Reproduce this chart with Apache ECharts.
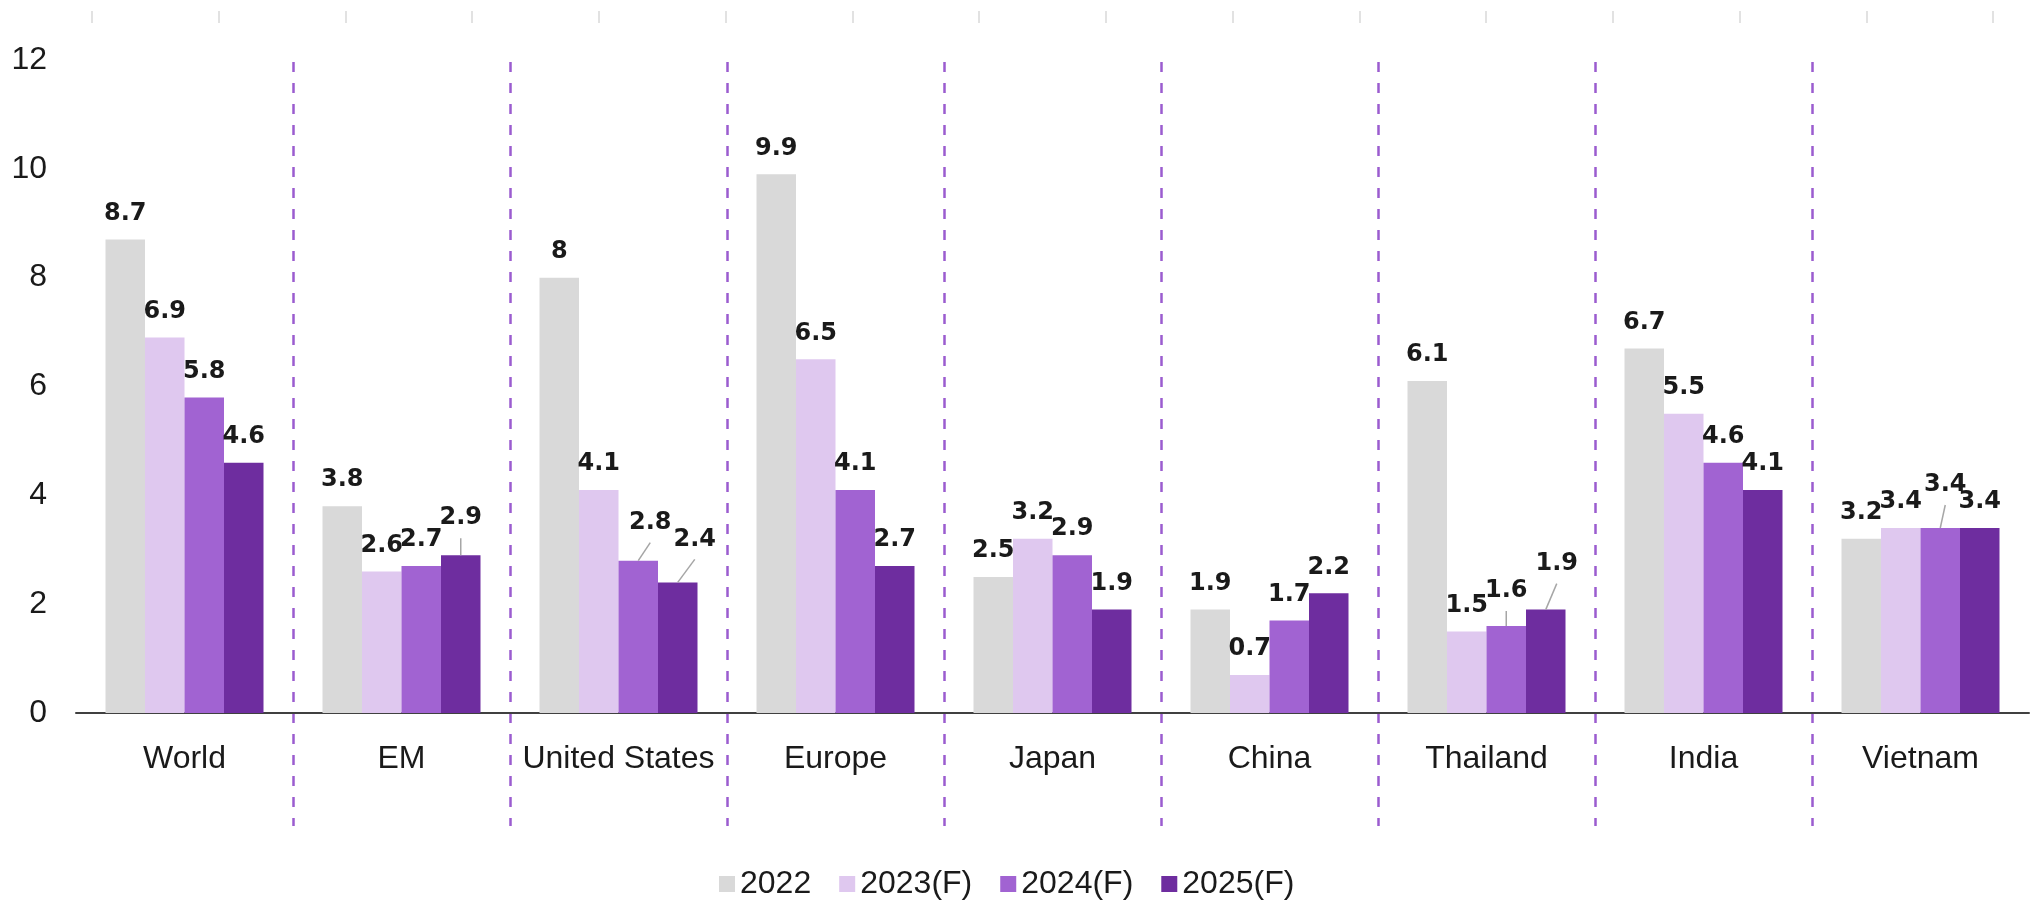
<!DOCTYPE html>
<html>
<head>
<meta charset="utf-8">
<script src="https://cdn.jsdelivr.net/npm/echarts@6/dist/echarts.min.js"></script>
<style>
html, body { margin: 0; padding: 0; background: #fff; }
#chart { width: 2040px; height: 900px; }
</style>
</head>
<body>
<div id="chart"></div>
<script>
var regions = ['World', 'EM', 'United States', 'Europe', 'Japan', 'China', 'Thailand', 'India', 'Vietnam'];
var years = ['2022', '2023(F)', '2024(F)', '2025(F)'];
var v2022 = [8.7, 3.8, 8, 9.9, 2.5, 1.9, 6.1, 6.7, 3.2];
var v2023 = [6.9, 2.6, 4.1, 6.5, 3.2, 0.7, 1.5, 5.5, 3.4];
var v2024 = [5.8, 2.7, 2.8, 4.1, 2.9, 1.7, 1.6, 4.6, 3.4];
var v2025 = [4.6, 2.9, 2.4, 2.7, 1.9, 2.2, 1.9, 4.1, 3.4];
var yMin = 0, yMax = 12, yStep = 2;

var colors = ['#d9d9d9', '#dfc8ef', '#a163d2', '#6e2d9f'];
var barW = 39.5;

// labels that were pulled off their bar (series-index, data-index) -> [dx, dy]
var labelNudge = {
    '3-1': [0, -11],
    '2-2': [12, -12],
    '3-2': [17, -17],
    '2-6': [0, -9],
    '3-6': [11, -20],
    '2-8': [5, -17]
};

var axisFont = '"Liberation Sans", Arial, sans-serif';

function barData(values, s) {
    return values.map(function(v, i) {
        var n = labelNudge[s + '-' + i];
        if (!n) return v;
        return { value: v, label: { offset: n } };
    });
}

// leader lines for the moved labels: [category, value, series, dx, dy]
function leaderData() {
    var all = [v2022, v2023, v2024, v2025];
    var out = [];
    Object.keys(labelNudge).forEach(function(k) {
        var p = k.split('-');
        var s = +p[0], i = +p[1];
        out.push([i, all[s][i], s, labelNudge[k][0], labelNudge[k][1]]);
    });
    return out;
}

function drawChart() {
    var chart = echarts.init(document.getElementById('chart'));
    var all = [v2022, v2023, v2024, v2025];
    var series = all.map(function(vals, s) {
        return {
            name: years[s],
            type: 'bar',
            barWidth: barW,
            barGap: '0%',
            itemStyle: { color: colors[s] },
            label: {
                show: true,
                position: 'top',
                distance: 14,
                color: '#1a1a1a',
                fontFamily: '"DejaVu Sans", sans-serif',
                fontWeight: 'bold',
                fontSize: 24
            },
            data: barData(vals, s)
        };
    });

    series.push({
        type: 'custom',
        name: 'leaders',
        silent: true,
        z: 5,
        data: leaderData(),
        renderItem: function(params, api) {
            var c = api.coord([api.value(0), api.value(1)]);
            var s = api.value(2), dx = api.value(3), dy = api.value(4);
            var x0 = c[0] + (s - 1.5) * barW;
            var y0 = c[1];
            return {
                type: 'line',
                shape: { x1: x0, y1: y0, x2: x0 + dx, y2: y0 + dy - 6 },
                style: { stroke: '#a6a6a6', lineWidth: 1.5 }
            };
        }
    });

    var option = {
        animation: false,
        legend: {
            data: years,
            left: 714,
            top: 863,
            icon: 'rect',
            itemWidth: 16,
            itemHeight: 16,
            itemGap: 28,
            textStyle: { fontFamily: axisFont, fontSize: 32, color: '#1a1a1a' }
        },
        grid: [
            { left: 76, right: 11, top: 60, bottom: 187 },
            { left: 76, right: 11, top: 62, bottom: 74 },
            { left: 92, right: 47, top: 22, height: 1 }
        ],
        xAxis: [{
            type: 'category',
            gridIndex: 0,
            data: regions,
            axisLine: { lineStyle: { color: '#404040', width: 2 } },
            axisTick: { show: false },
            axisLabel: { margin: 30, fontFamily: axisFont, fontSize: 32, color: '#1a1a1a', interval: 0 },
            splitLine: { show: false }
        }, {
            type: 'category',
            gridIndex: 1,
            data: regions,
            axisLine: { show: false },
            axisTick: { show: false },
            axisLabel: { show: false },
            splitLine: {
                show: true,
                interval: 0,
                showMinLine: false,
                showMaxLine: false,
                lineStyle: { color: '#9b5ccf', width: 2.5, type: [10, 11] }
            }
        }, {
            type: 'value',
            gridIndex: 2,
            position: 'top',
            min: 0,
            max: 15,
            interval: 1,
            axisLine: { show: true, lineStyle: { color: 'rgba(0,0,0,0)' } },
            axisTick: { show: true, length: 12, lineStyle: { color: '#d9d9d9', width: 1.5 } },
            axisLabel: { show: false },
            splitLine: { show: false }
        }],
        yAxis: [{
            type: 'value',
            gridIndex: 0,
            min: yMin,
            max: yMax,
            interval: yStep,
            axisLine: { show: false },
            axisTick: { show: false },
            splitLine: { show: false },
            axisLabel: { margin: 29, fontFamily: axisFont, fontSize: 32, color: '#1a1a1a' }
        }, {
            type: 'value',
            gridIndex: 1,
            show: false,
            min: 0,
            max: 1
        }, {
            type: 'value',
            gridIndex: 2,
            show: false,
            min: 0,
            max: 1
        }],
        series: series
    };
    chart.setOption(option);
}

drawChart();
</script>
</body>
</html>
